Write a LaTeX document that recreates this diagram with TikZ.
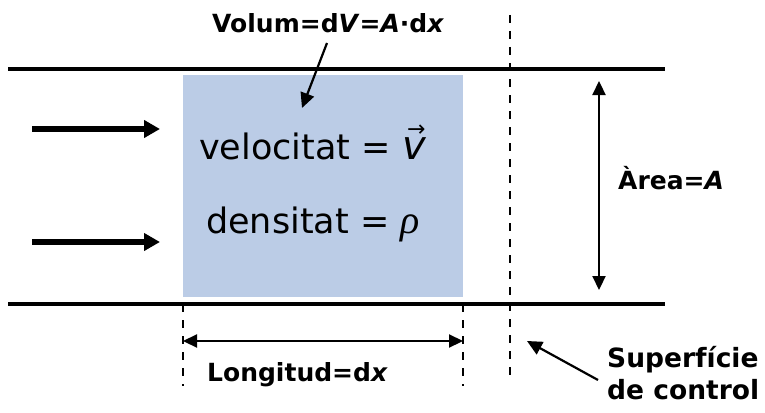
\RequirePackage{fix-cm}
\documentclass[tikz,border=0pt]{standalone}
\usepackage{fontspec}
\setmainfont{DejaVu Sans}
\newfontfamily\rhofont{Liberation Serif}
\usetikzlibrary{arrows.meta}
\definecolor{boxblue}{RGB}{187,204,230}
\newcommand\myvecv{\leavevmode\vbox{\offinterlineskip\halign{\hfil##\hfil\cr
  \hskip5pt{\fontsize{22}{22}\selectfont →}\cr\noalign{\kern0.5pt}
  {\fontsize{40}{40}\selectfont\itshape v}\cr}}}
\begin{document}
\begin{tikzpicture}[x=1pt,y=-1pt,
  wall/.style={line width=3.5pt},
  flow/.style={line width=5.5pt,-{Triangle[length=16pt,width=17pt]}},
  dimarrow/.style={line width=2.2pt,{Triangle[length=14pt,width=13pt]}-{Triangle[length=14pt,width=13pt]}},
  pointer/.style={line width=2.2pt,-{Triangle[length=15pt,width=14pt]}},
  guide/.style={line width=2pt,dash pattern=on 8pt off 8pt},
  lbl/.style={font=\bfseries\fontsize{25}{32}\selectfont, inner sep=0pt},
  big/.style={font=\fontsize{35}{42}\selectfont, inner sep=0pt}]
\useasboundingbox (0,0) rectangle (765,412);
% control volume
\node[fill=boxblue, inner sep=0pt, minimum width=280pt, minimum height=222pt, anchor=north west] (box) at (183,75) {};
% walls
\coordinate (tl) at (8,69);   \coordinate (tr) at (665,69);
\coordinate (bl) at (8,304);  \coordinate (br) at (665,304);
\draw[wall] (tl) -- (tr);
\draw[wall] (bl) -- (br);
% flow arrows
\coordinate (f1a) at (32,129); \coordinate (f1b) at (160,129);
\coordinate (f2a) at (32,242); \coordinate (f2b) at (160,242);
\draw[flow] (f1a) -- (f1b);
\draw[flow] (f2a) -- (f2b);
% control surface
\coordinate (cs1) at (510,15); \coordinate (cs2) at (510,380);
\draw[guide] (cs1) -- (cs2);
% length guides
\coordinate (g1a) at (183,304); \coordinate (g1b) at (183,386);
\coordinate (g2a) at (463,304); \coordinate (g2b) at (463,386);
\draw[guide] (g1a) -- (g1b);
\draw[guide] (g2a) -- (g2b);
\coordinate (d1) at (183,341); \coordinate (d2) at (463,341);
\draw[dimarrow] (d1) -- (d2);
\node[lbl, anchor=base] (len) at (297.5,381) {Longitud=d\textit{x}};
% area arrow
\coordinate (a1) at (599,81); \coordinate (a2) at (599,290);
\draw[dimarrow] (a1) -- (a2);
\node[lbl, anchor=base west] (area) at (618,189) {Àrea=\textit{A}};
% volume label
\node[lbl, anchor=base west] (vol) at (212,33) {Volum=d\textit{V}=\textit{A}·d\textit{x}};
\coordinate (v1) at (327,43); \coordinate (v2) at (302,108);
\draw[pointer] (v1) -- (v2);
% texts in box
\node[big, anchor=base west] (vel) at (199,159) {velocitat = \myvecv};
\node[big, anchor=base west] (den) at (206,233) {densitat = {\rhofont\itshape\fontsize{40}{40}\selectfont ρ}};
% control surface label
\node[lbl, font=\bfseries\fontsize{26.5}{32}\selectfont, align=left, anchor=base west] (sup) at (607,399) {Superfície\\de control};
\coordinate (s1) at (598,380); \coordinate (s2) at (527,341);
\draw[pointer] (s1) -- (s2);
\end{tikzpicture}
\end{document}
